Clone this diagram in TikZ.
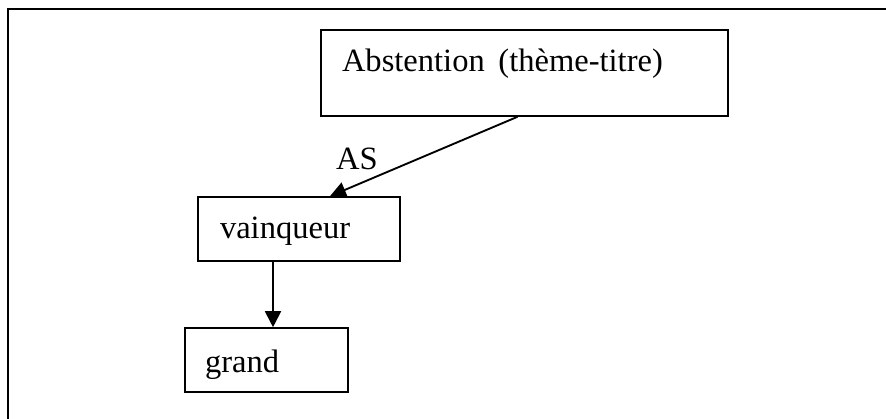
\documentclass[tikz,border=0pt]{standalone}
\usepackage{fontspec}
\setmainfont{Liberation Serif}
\usetikzlibrary{arrows.meta}

\tikzset{
  box/.style={draw, line width=1.2pt, rectangle, align=left, inner ysep=0pt},
  arr/.style={line width=1.4pt, -{Triangle[length=12pt, width=12pt]}}
}

\begin{document}
\begin{tikzpicture}[x=0.75pt, y=-0.75pt, font=\fontsize{24.4pt}{29pt}\selectfont]
            \useasboundingbox (0,0) rectangle (886,418);
            \draw[line width=2.2pt] (8,420) -- (8,9) -- (888,9);

            \node[box, text width=273.75pt, inner xsep=15.75pt,
                  text height=30.75pt, text depth=33.75pt] (abst) at (524.5,73)
                {Abstention\hspace{0.42em}(thème-titre)};
            \node[box, text width=118.5pt, inner xsep=16.5pt,
                  text height=30.75pt, text depth=17.25pt] (vain) at (299,229)
                {vainqueur};
            \node[box, text width=92.25pt, inner xsep=15pt,
                  text height=33pt, text depth=15pt] (grand) at (266.5,360)
                {grand};

            \draw[arr] ([xshift=-5.25pt]abst.south) -- node[pos=0.856, anchor=south, inner sep=0pt, yshift=10.5pt] (as) {AS} ([xshift=23.25pt]vain.north);
            \draw[arr] ([xshift=-19.5pt]vain.south) -- ([xshift=-19.5pt]vain.south |- grand.north);
\end{tikzpicture}
\end{document}
